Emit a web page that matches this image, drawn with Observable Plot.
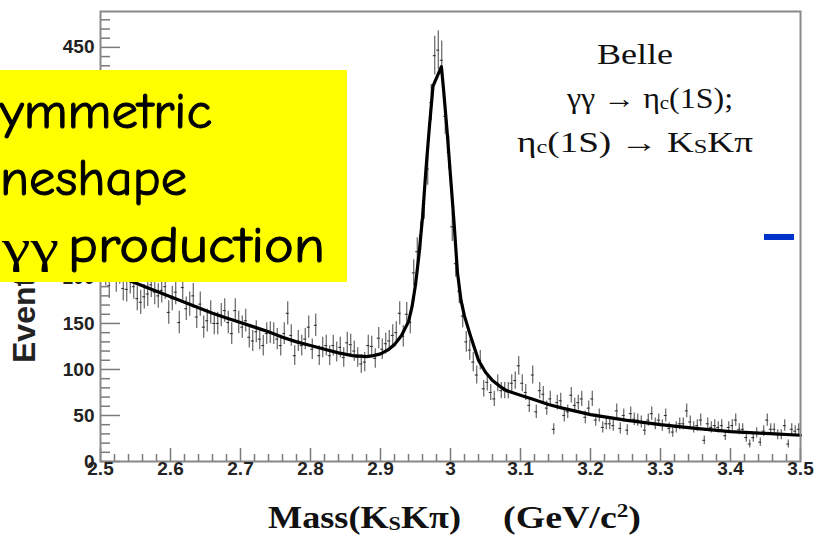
<!DOCTYPE html>
<html><head><meta charset="utf-8">
<script src="https://cdn.jsdelivr.net/npm/d3@7"></script>
<script src="https://cdn.jsdelivr.net/npm/@observablehq/plot@0.6"></script>
<style>
html,body{margin:0;padding:0;background:#fff;}
#wrap{position:relative;width:815px;height:535px;overflow:hidden;background:#fff;}
#wrap > svg{position:absolute;left:0;top:0;}
</style></head><body>
<div id="wrap"></div>
<script>
// Histogram: 200 bins of 5 MeV from 2.5 to 3.5 GeV/c^2
const binLow = 2.5;
const binWidth = 0.005;
const counts = [
 212,205,191,215,198,207,188,187,196,190,
 177,173,179,182,192,184,180,186,190,162,
 177,184,151,189,166,171,180,157,171,146,
 153,162,150,150,159,164,151,139,164,151,
 146,153,135,131,141,133,126,139,140,139,
 133,126,139,161,137,115,131,126,133,146,
 122,148,115,124,126,115,126,119,124,113,
 129,127,120,113,106,108,126,125,112,134,
 122,128,131,137,140,161,136,160,151,205,
 228,245,280,318,390,441,447,436,375,336,
 255,215,185,158,130,121,108,94,110,79,
 86,75,68,85,77,77,77,85,88,104,
 85,75,61,94,54,77,73,58,68,35,
 64,66,50,54,72,61,64,68,48,58,
 68,45,50,37,41,41,39,55,36,50,
 34,52,46,45,43,34,45,52,41,45,
 39,50,36,32,37,41,41,55,43,37,
 39,45,23,41,37,39,37,39,28,37,
 39,45,35,35,26,19,26,31,21,33,
 45,35,35,29,29,39,19,35,33,35
];
// Fit curve
const fitMass = [2.50,2.52,2.54,2.56,2.58,2.60,2.62,2.64,2.66,2.68,2.70,2.72,2.74,2.76,2.78,2.80,2.82,2.84,2.86,2.88,2.89,2.90,2.91,2.92,2.93,2.94,2.945,2.95,2.955,2.96,2.965,2.97,2.975,2.987,2.99,2.995,3.00,3.005,3.01,3.015,3.02,3.03,3.04,3.05,3.06,3.07,3.08,3.10,3.12,3.14,3.16,3.18,3.20,3.25,3.30,3.35,3.40,3.45,3.50];
const fitEvents = [210,203,197,191,185,179,173,167,161,156,151,146,141,135,130,126,122,118,115,114,115,117,121,127,137,152,168,192,225,265,318,365,408,429,405,360,310,260,205,175,158,133,110,97,88,82,77,72,67,62,58,54.5,51,45,40,36,32.5,30.5,28.5];
// Axes
const xMajor = [2.5,2.6,2.7,2.8,2.9,3.0,3.1,3.2,3.3,3.4,3.5];
const xMinor = [2.52,2.54,2.56,2.58,2.62,2.64,2.66,2.68,2.72,2.74,2.76,2.78,2.82,2.84,2.86,2.88,2.92,2.94,2.96,2.98,3.02,3.04,3.06,3.08,3.12,3.14,3.16,3.18,3.22,3.24,3.26,3.28,3.32,3.34,3.36,3.38,3.42,3.44,3.46,3.48];
const yMajor = [0,50,100,150,200,250,300,350,400,450];
const yMinor = [10,20,30,40,60,70,80,90,110,120,130,140,160,170,180,190,210,220,230,240,260,270,280,290,310,320,330,340,360,370,380,390,410,420,430,440,460,470,480];

const bins = counts.map((c, i) => ({mass: binLow + binWidth * (i + 0.5), count: c, err: Math.sqrt(c)}));
const fit = fitMass.map((m, i) => ({mass: m, events: fitEvents[i]}));

const W = 815, H = 535, mL = 100, mR = 15, mT = 11, mB = 74;
const plotW = W - mL - mR, plotH = H - mT - mB;
const axisGray = "#7a7a7a";

const chart = Plot.plot({
  width: W, height: H,
  marginLeft: mL, marginRight: mR, marginTop: mT, marginBottom: mB,
  x: {domain: [2.5, 3.5], label: null, axis: null},
  y: {domain: [0, 489], label: null, axis: null},
  style: {background: "white", fontFamily: "'Liberation Sans', Arial, sans-serif"},
  marks: [
    Plot.ruleX(bins, {x: "mass", y1: d => d.count - d.err, y2: d => d.count + d.err, stroke: "#555", strokeWidth: 1.1}),
    Plot.ruleY(bins, {y: "count", x1: d => d.mass - binWidth * 0.42, x2: d => d.mass + binWidth * 0.42, stroke: "#333", strokeWidth: 1.1}),
    Plot.line(fit, {x: "mass", y: "events", stroke: "#000", strokeWidth: 3.2, curve: "linear"}),
    Plot.tickX(xMinor, {x: d => d, insetTop: plotH - 7, stroke: axisGray, strokeWidth: 1.5}),
    Plot.tickX(xMajor, {x: d => d, insetTop: plotH - 13, stroke: axisGray, strokeWidth: 1.5}),
    Plot.tickY(yMinor, {y: d => d, insetRight: plotW - 10, stroke: axisGray, strokeWidth: 1.5}),
    Plot.tickY(yMajor, {y: d => d, insetRight: plotW - 20, stroke: axisGray, strokeWidth: 1.5}),
    Plot.frame({stroke: "#888", strokeWidth: 2}),
    Plot.text(xMajor, {x: d => d, text: d => String(d), frameAnchor: "bottom", dy: 13, fontSize: 19, fontWeight: "bold", fill: "#222"}),
    Plot.text(yMajor, {y: d => d, text: d => String(d), frameAnchor: "left", dx: -6, textAnchor: "end", fontSize: 19, fontWeight: "bold", fill: "#222"})
  ]
});
const wrap = document.getElementById("wrap");
wrap.appendChild(chart);

const NS = "http://www.w3.org/2000/svg";
const ov = document.createElementNS(NS, "svg");
ov.setAttribute("width", W); ov.setAttribute("height", H);
ov.innerHTML = `
  <text transform="translate(35,363) rotate(-90)" text-anchor="start" font-family="'Liberation Sans',Arial,sans-serif" font-weight="bold" font-size="32" fill="#222">Events / 5 MeV/c²</text>
  <rect x="0" y="70" width="347" height="212" fill="#ffff00"/>
  <g font-family="'Comic Sans MS','Comic Neue','DejaVu Sans'" font-size="50" fill="#000" stroke="#000" stroke-width="1">
    <text x="0" y="128" textLength="212" lengthAdjust="spacingAndGlyphs">ymmetric</text>
    <text x="0" y="195" textLength="187" lengthAdjust="spacingAndGlyphs">neshape</text>
    <text x="68" y="262" textLength="257" lengthAdjust="spacingAndGlyphs">production</text>
  </g>
  <text x="2" y="262" font-family="'Liberation Serif','Times New Roman',serif" font-size="46" textLength="57" lengthAdjust="spacingAndGlyphs">γγ</text>
  <g font-family="'Liberation Serif','Times New Roman',serif" fill="#111" text-anchor="middle">
    <text x="635" y="64" font-size="29" textLength="76" lengthAdjust="spacingAndGlyphs">Belle</text>
    <text x="650" y="108" font-size="29" textLength="166" lengthAdjust="spacingAndGlyphs">γγ → η<tspan font-size="19" dy="1">c</tspan><tspan dy="-1">(1S);</tspan></text>
    <text x="635" y="152" font-size="29" textLength="236" lengthAdjust="spacingAndGlyphs">η<tspan font-size="19" dy="1">c</tspan><tspan dy="-1">(1S) → K</tspan><tspan font-size="19" dy="1">S</tspan><tspan dy="-1">Kπ</tspan></text>
  </g>
  <g font-family="'Liberation Serif','Times New Roman',serif" font-weight="bold" font-size="31" fill="#111">
    <text x="268" y="528" textLength="193" lengthAdjust="spacingAndGlyphs">Mass(K<tspan font-size="19" dy="2">S</tspan><tspan dy="-2">Kπ)</tspan></text>
    <text x="503" y="528" textLength="138" lengthAdjust="spacingAndGlyphs">(GeV/c<tspan font-size="19" dy="-11">2</tspan><tspan dy="11">)</tspan></text>
  </g>
  <rect x="764" y="234" width="30" height="6" fill="#0033cc"/>
`;
wrap.appendChild(ov);
</script>
</body></html>
